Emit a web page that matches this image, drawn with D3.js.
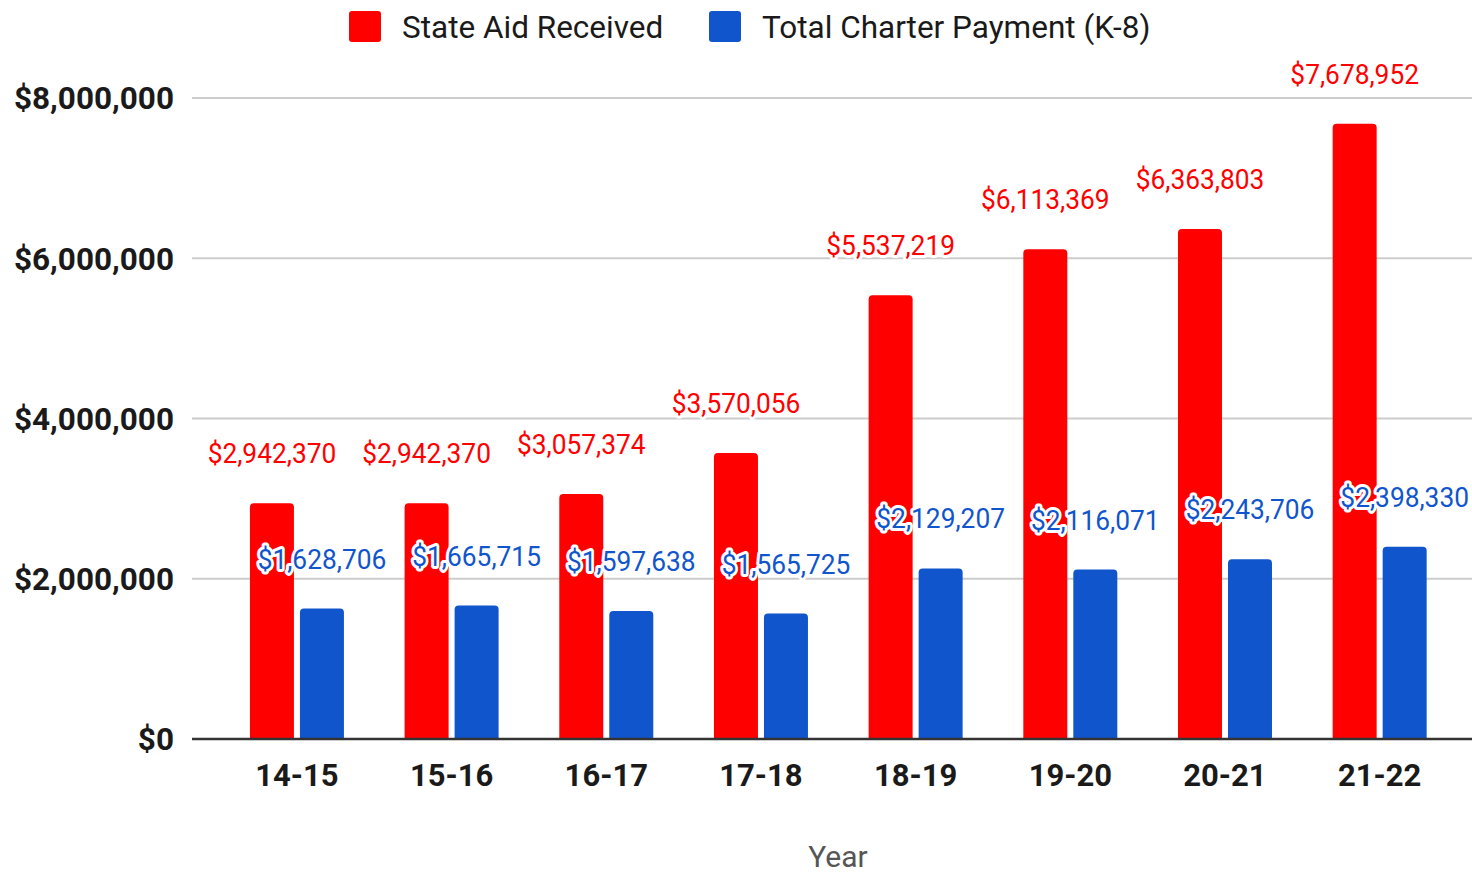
<!DOCTYPE html>
<html><head><meta charset="utf-8">
<script src="https://cdn.jsdelivr.net/npm/d3@7"></script>
<style>
html,body{margin:0;padding:0;background:#fff;}
text{font-family:Roboto,"Noto Sans",sans-serif;}
</style></head>
<body>
<svg id="chart" width="1472" height="875"></svg>
<script>
const years = ["14-15","15-16","16-17","17-18","18-19","19-20","20-21","21-22"];
const stateAid = [2942370,2942370,3057374,3570056,5537219,6113369,6363803,7678952];
const charterPay = [1628706,1665715,1597638,1565725,2129207,2116071,2243706,2398330];
const yTicks = [0,2000000,4000000,6000000,8000000];
const seriesNames = ["State Aid Received","Total Charter Payment (K-8)"];
const seriesColors = ["#ff0000","#1155cc"];

const svg = d3.select("#chart");
const plotLeft = 192, plotRight = 1472, baseY = 739, topY = 98;

const y = d3.scaleLinear().domain([0,8000000]).range([baseY, topY]);
const x = d3.scaleBand().domain(years).range([219.6, 1457]).padding(0);
const bw = x.bandwidth();
const x1 = d3.scaleBand().domain([0,1]).range([bw/2-47, bw/2+47]).paddingInner(0.12).paddingOuter(0);

// grid
svg.append("g").selectAll("line").data(yTicks.filter(d=>d>0)).join("line")
  .attr("x1", plotLeft).attr("x2", plotRight)
  .attr("y1", d=>y(d)).attr("y2", d=>y(d))
  .attr("stroke", "#cccccc").attr("stroke-width", 2);

// y axis labels
const fmt = d3.format("$,");
svg.append("g").selectAll("text").data(yTicks).join("text")
  .attr("x", 174).attr("y", d=>y(d)).attr("dy","0.36em")
  .attr("text-anchor","end").attr("font-weight","bold").attr("font-size", 31.5)
  .attr("fill","#1a1a1a").text(d=>fmt(d));

// bars
function barPath(x0, w, yTop, yBot, r){
  r = Math.min(r, w/2, yBot-yTop);
  return `M${x0},${yBot}V${yTop+r}Q${x0},${yTop} ${x0+r},${yTop}H${x0+w-r}Q${x0+w},${yTop} ${x0+w},${yTop+r}V${yBot}Z`;
}
const data = years.map((yr,i)=>({yr, vals:[stateAid[i], charterPay[i]]}));
const groups = svg.append("g").selectAll("g").data(data).join("g")
  .attr("transform", d=>`translate(${x(d.yr)},0)`);
groups.selectAll("path").data(d=>d.vals.map((v,k)=>({v,k}))).join("path")
  .attr("d", d=>barPath(x1(d.k), x1.bandwidth(), y(d.v), baseY, 4))
  .attr("fill", d=>seriesColors[d.k]);

// baseline
svg.append("line").attr("x1", plotLeft).attr("x2", plotRight)
  .attr("y1", baseY).attr("y2", baseY).attr("stroke","#333").attr("stroke-width",2.5);

// value labels
const labels = svg.append("g");
data.forEach(d=>{
  d.vals.forEach((v,k)=>{
    const cx = x(d.yr) + x1(k) + x1.bandwidth()/2;
    const cy = y(v) - 50;
    labels.append("text")
      .attr("transform", `translate(${cx},${cy}) scale(0.94,1)`)
      .attr("text-anchor","middle").attr("dy","0.36em")
      .attr("font-size", 28)
      .attr("fill", seriesColors[k])
      .attr("stroke","#fff").attr("stroke-width",6).attr("stroke-linejoin","round")
      .attr("paint-order","stroke")
      .text(fmt(v));
  });
});

// x axis labels
svg.append("g").selectAll("text").data(years).join("text")
  .attr("x", d=>x(d)+bw/2).attr("y", 775).attr("dy","0.36em")
  .attr("text-anchor","middle").attr("font-weight","bold").attr("font-size", 31)
  .attr("fill","#1a1a1a").text(d=>d);

// x axis title
svg.append("text").attr("x", 838).attr("y", 856).attr("dy","0.36em")
  .attr("text-anchor","middle").attr("font-size", 30).attr("fill","#555").text("Year");

// legend
const legendItems = [{sx:349, tx:402},{sx:709, tx:762}];
legendItems.forEach((li,k)=>{
  svg.append("rect").attr("x", li.sx).attr("y", 11).attr("width", 32).attr("height", 31)
    .attr("rx", 3).attr("fill", seriesColors[k]);
  svg.append("text").attr("x", li.tx).attr("y", 27).attr("dy","0.36em")
    .attr("font-size", 31.5).attr("fill","#1a1a1a").text(seriesNames[k]);
});
</script>
</body></html>
